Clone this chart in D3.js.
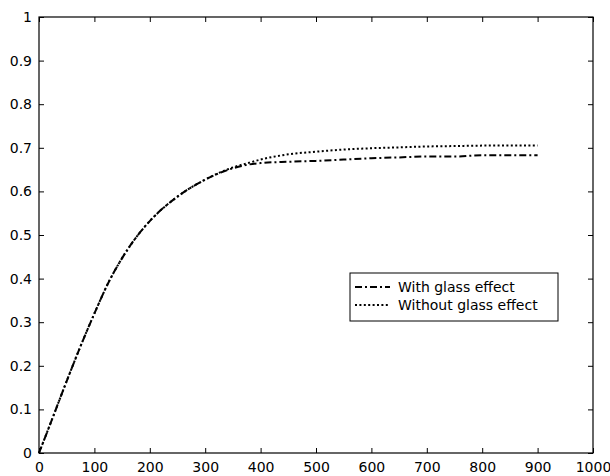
<!DOCTYPE html>
<html>
<head>
<meta charset="utf-8">
<script src="https://cdn.jsdelivr.net/npm/d3@7"></script>
<style>
  body { margin: 0; background: #fff; }
  text { font-family: "DejaVu Sans", sans-serif; font-size: 14px; fill: #000; }
</style>
</head>
<body>
<div id="chart"></div>
<script>
// values
var xVals = [0, 25, 50, 75, 100, 125, 150, 175, 200, 250, 300, 350, 380, 400, 450, 500, 550, 600, 650, 700, 750, 800, 850, 900];
var withGlass = [0, 0.082, 0.165, 0.245, 0.32, 0.39, 0.447, 0.494, 0.532, 0.588, 0.627, 0.653, 0.662, 0.665, 0.668, 0.67, 0.673, 0.676, 0.678, 0.68, 0.68, 0.683, 0.683, 0.683];
var withoutGlass = [0, 0.082, 0.165, 0.245, 0.32, 0.39, 0.447, 0.494, 0.532, 0.588, 0.627, 0.655, 0.666, 0.673, 0.685, 0.691, 0.696, 0.699, 0.701, 0.703, 0.704, 0.705, 0.705, 0.705];
var xTicks = [0, 100, 200, 300, 400, 500, 600, 700, 800, 900, 1000];
var yTicks = [0, 0.1, 0.2, 0.3, 0.4, 0.5, 0.6, 0.7, 0.8, 0.9, 1];
var legendLabels = ["With glass effect", "Without glass effect"];

var margin = { top: 17, right: 17, bottom: 23, left: 39 },
    width = 610 - margin.left - margin.right,
    height = 476 - margin.top - margin.bottom;

var svg = d3.select("#chart")
    .append("svg")
    .attr("width", 610)
    .attr("height", 476)
    .append("g")
    .attr("transform", "translate(" + margin.left + "," + margin.top + ")");

var x = d3.scaleLinear().domain([0, 1000]).range([0, width]);
var y = d3.scaleLinear().domain([0, 1]).range([height, 0]);

// axes, ticks pointing inward like matlab
svg.append("g")
    .attr("transform", "translate(0," + height + ")")
    .call(d3.axisBottom(x).tickValues(xTicks).tickSizeInner(-5).tickSizeOuter(0).tickPadding(9).tickFormat(d3.format("d")))
    .call(g => g.select(".domain").remove());

svg.append("g")
    .call(d3.axisLeft(y).tickValues(yTicks).tickSizeInner(-5).tickSizeOuter(0).tickPadding(7).tickFormat(d => d === 0 || d === 1 ? d : d3.format(".1f")(d)))
    .call(g => g.select(".domain").remove());

svg.append("g")
    .call(d3.axisTop(x).tickValues(xTicks).tickSizeInner(-5).tickSizeOuter(0).tickFormat(""))
    .call(g => g.select(".domain").remove());

svg.append("g")
    .attr("transform", "translate(" + width + ",0)")
    .call(d3.axisRight(y).tickValues(yTicks).tickSizeInner(-5).tickSizeOuter(0).tickFormat(""))
    .call(g => g.select(".domain").remove());

svg.selectAll(".tick line").attr("stroke", "#000");
svg.selectAll(".tick text").style("font-size", "14px").style("font-family", "DejaVu Sans, sans-serif");

svg.append("rect")
    .attr("width", width)
    .attr("height", height)
    .attr("fill", "none")
    .attr("stroke", "#000")
    .attr("stroke-width", 1.2);

var line = d3.line()
    .x(function (d, i) { return x(xVals[i]); })
    .y(function (d) { return y(d); })
    .curve(d3.curveMonotoneX);

svg.append("path")
    .datum(withoutGlass)
    .attr("fill", "none")
    .attr("stroke", "#000")
    .attr("stroke-width", 2)
    .attr("stroke-dasharray", "2,2.4")
    .attr("d", line);

svg.append("path")
    .datum(withGlass)
    .attr("fill", "none")
    .attr("stroke", "#000")
    .attr("stroke-width", 2)
    .attr("stroke-dasharray", "7,3,2,3")
    .attr("d", line);

// legend
var lx = 350 - margin.left, ly = 273 - margin.top;
var legend = svg.append("g").attr("transform", "translate(" + lx + "," + ly + ")");
legend.append("rect")
    .attr("width", 208)
    .attr("height", 48)
    .attr("fill", "#fff")
    .attr("stroke", "#000");

var dashes = ["7,3,2,3", "2,2.4"];
legendLabels.forEach(function (lab, i) {
    var yy = 14 + i * 18;
    legend.append("line")
        .attr("x1", 5).attr("x2", 40)
        .attr("y1", yy).attr("y2", yy)
        .attr("stroke", "#000")
        .attr("stroke-width", 2)
        .attr("stroke-dasharray", dashes[i]);
    legend.append("text")
        .attr("x", 48)
        .attr("y", yy + 5)
        .text(lab);
});
</script>
</body>
</html>
